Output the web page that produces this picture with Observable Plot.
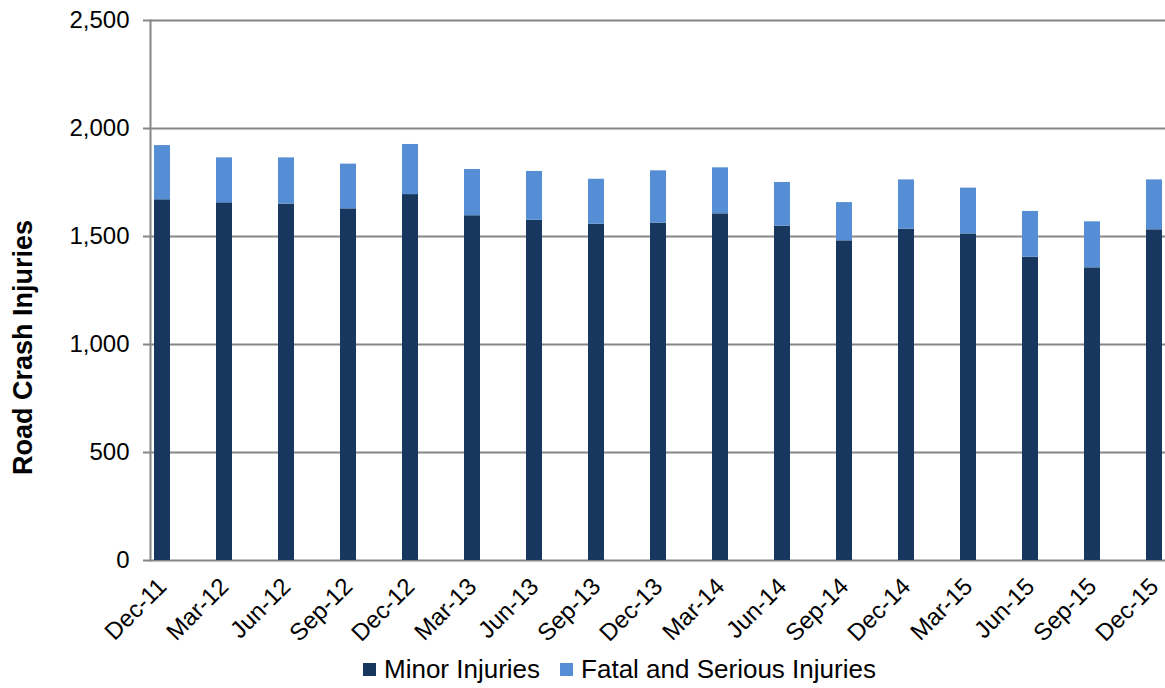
<!DOCTYPE html>
<html>
<head>
<meta charset="utf-8">
<script src="https://cdn.jsdelivr.net/npm/d3@7"></script>
<script src="https://cdn.jsdelivr.net/npm/@observablehq/plot@0.6"></script>
<style>
  html, body { margin: 0; padding: 0; background: #fff; }
  body { width: 1165px; height: 688px; overflow: hidden; font-family: "Liberation Sans", Arial, sans-serif; }
  #chart svg { display: block; overflow: visible; }
  #legend { display: flex; align-items: center; height: 29px; padding-left: 363px; font-size: 26px; line-height: 29px; color: #000; }
  .item { display: flex; align-items: center; margin-right: 20px; }
  .sw { width: 13px; height: 13px; margin-right: 8px; }
</style>
</head>
<body>
<div id="chart"></div>
<div id="legend"></div>
<script>
const categories = ["Dec-11","Mar-12","Jun-12","Sep-12","Dec-12","Mar-13","Jun-13","Sep-13","Dec-13","Mar-14","Jun-14","Sep-14","Dec-14","Mar-15","Jun-15","Sep-15","Dec-15"];
const minorInjuries = [1670,1656,1650,1628,1694,1596,1575,1557,1562,1605,1548,1480,1534,1512,1404,1355,1531];
const fatalSerious = [251,208,214,207,232,214,226,208,242,213,202,177,228,212,212,213,231];
const seriesNames = ["Minor Injuries","Fatal and Serious Injuries"];
const seriesColors = ["#17375E","#558ED5"];
const yTicks = [0,500,1000,1500,2000,2500];
const yTitle = "Road Crash Injuries";

const rows = [];
categories.forEach((c, i) => {
  rows.push({period: c, series: seriesNames[0], value: minorInjuries[i]});
  rows.push({period: c, series: seriesNames[1], value: fatalSerious[i]});
});

const chart = Plot.plot({
  width: 1165,
  height: 655,
  marginLeft: 150,
  marginRight: 0,
  marginTop: 20,
  marginBottom: 95,
  style: {fontFamily: "'Liberation Sans', Arial, sans-serif", fontSize: "24px", color: "#000", background: "#fff", overflow: "visible"},
  x: {domain: categories, paddingInner: 0.7426, paddingOuter: 0.0366, axis: null, label: null},
  y: {domain: [0, 2500], axis: null, label: null},
  color: {domain: seriesNames, range: seriesColors},
  marks: [
    Plot.ruleY(yTicks, {stroke: "#868686", strokeWidth: 2}),
    Plot.barY(rows, {x: "period", y: "value", fill: "series", order: seriesNames}),
    Plot.frame({anchor: "left", stroke: "#868686", strokeWidth: 2}),
    Plot.axisY({ticks: yTicks, tickFormat: d3.format(","), label: null, tickSize: 7, tickPadding: 14, stroke: "#868686", strokeWidth: 2, fontSize: 24, fill: "#000"}),
    Plot.axisX({label: null, tickSize: 0, tickRotate: -45, tickPadding: 22, fontSize: 24, fill: "#000"}),
    Plot.text([yTitle], {frameAnchor: "left", textAnchor: "middle", rotate: -90, dx: -127, dy: 57, fontSize: 27, fontWeight: "bold", fill: "#000"})
  ]
});
document.getElementById("chart").appendChild(chart);

const legend = document.getElementById("legend");
seriesNames.forEach((name, i) => {
  const item = document.createElement("div");
  item.className = "item";
  const sw = document.createElement("div");
  sw.className = "sw";
  sw.style.background = seriesColors[i];
  const label = document.createElement("span");
  label.textContent = name;
  item.appendChild(sw);
  item.appendChild(label);
  legend.appendChild(item);
});
</script>
</body>
</html>
